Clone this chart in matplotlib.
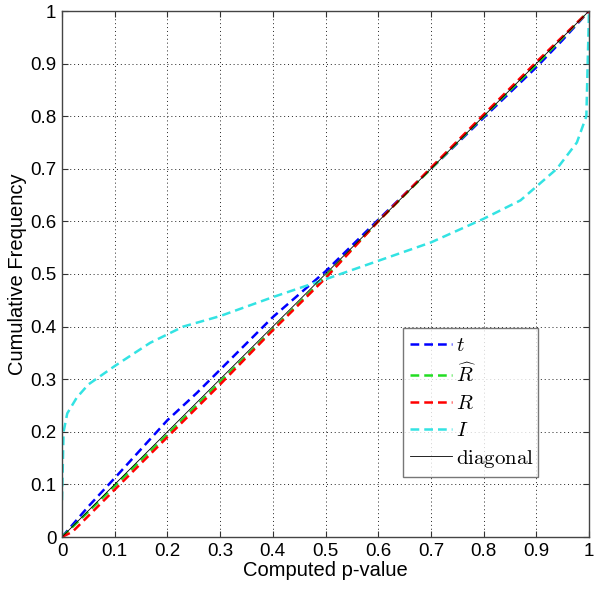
import matplotlib
matplotlib.use("Agg")
import matplotlib.pyplot as plt

plt.rcParams['mathtext.fontset'] = 'cm'

# Data
t_x = [0, 0.05, 0.1, 0.2, 0.256, 0.3, 0.4, 0.5, 0.6, 0.7, 0.8, 0.9, 0.95, 1.0]
t_y = [0, 0.058, 0.112, 0.222, 0.274, 0.318, 0.418, 0.505, 0.603, 0.700, 0.797, 0.893, 0.945, 1.0]

rhat_x = [0, 0.05, 0.1, 0.2, 0.3, 0.4, 0.5, 0.6, 0.7, 0.8, 0.9, 1.0]
rhat_y = [0, 0.048, 0.097, 0.195, 0.295, 0.395, 0.495, 0.600, 0.700, 0.800, 0.898, 1.0]

r_x = [0, 0.02, 0.1, 0.2, 0.3, 0.4, 0.5, 0.6, 0.7, 0.8, 0.9, 1.0]
r_y = [0, 0.010, 0.090, 0.190, 0.290, 0.393, 0.492, 0.600, 0.702, 0.803, 0.903, 1.0]

i_x = [0, 0.003, 0.01, 0.028, 0.05, 0.1, 0.167, 0.23, 0.3, 0.4, 0.5, 0.6, 0.7, 0.8,
       0.87, 0.939, 0.977, 0.995, 1.0]
i_y = [0.07, 0.20, 0.235, 0.265, 0.29, 0.325, 0.369, 0.40, 0.42, 0.456, 0.49, 0.525,
       0.56, 0.605, 0.64, 0.70, 0.75, 0.80, 1.0]

diag = [0, 1]

xticks = [0, 0.1, 0.2, 0.3, 0.4, 0.5, 0.6, 0.7, 0.8, 0.9, 1]
xticklabels = ['0', '0.1', '0.2', '0.3', '0.4', '0.5', '0.6', '0.7', '0.8', '0.9', '1']

fig = plt.figure(figsize=(6.0, 5.91), dpi=100)
ax = fig.add_axes([62/600, 54/591, 527/600, 526/591])

dash = (0, (3.5, 2.0))
ax.plot(t_x, t_y, color='#0000ff', lw=1.8, linestyle=dash, label=r'$t$')
ax.plot(rhat_x, rhat_y, color='#22dd22', lw=1.8, linestyle=dash, label=r'$\widehat{R}$')
ax.plot(r_x, r_y, color='#ff0000', lw=1.8, linestyle=dash, label=r'$R$')
ax.plot(i_x, i_y, color='#33e3e3', lw=1.8, linestyle=dash, label=r'$I$')
ax.plot(diag, diag, color='black', lw=0.6, label=r'$\mathrm{diagonal}$')

ax.set_xlim(0, 1)
ax.set_ylim(0, 1)
ax.set_xticks(xticks)
ax.set_xticklabels(xticklabels)
ax.set_yticks(xticks)
ax.set_yticklabels(xticklabels)
ax.grid(True, linestyle=(0, (1, 3)), color='#222222', lw=0.7)
ax.tick_params(direction='in', top=True, right=True, length=4, labelsize=13.5,
               color='#333333', pad=4)
for lab in ax.get_xticklabels() + ax.get_yticklabels():
    lab.set_family('Liberation Sans')
for s in ax.spines.values():
    s.set_color('#444444')
    s.set_linewidth(1.0)

ax.set_xlabel('Computed p-value', fontsize=14.5, family='Liberation Sans', labelpad=1)
ax.set_ylabel('Cumulative Frequency', fontsize=14.5, family='Liberation Sans', labelpad=2)

leg = ax.legend(loc='lower left', bbox_to_anchor=(0.647, 0.114, 0.256, 0.285),
                mode='expand', fontsize=15, frameon=True, fancybox=False,
                handlelength=2.0, handletextpad=0.2, labelspacing=0.35,
                borderaxespad=0, borderpad=0.35)
leg.get_frame().set_edgecolor('#555555')
leg.get_frame().set_linewidth(1.0)

fig.savefig('out.png', dpi=100)
